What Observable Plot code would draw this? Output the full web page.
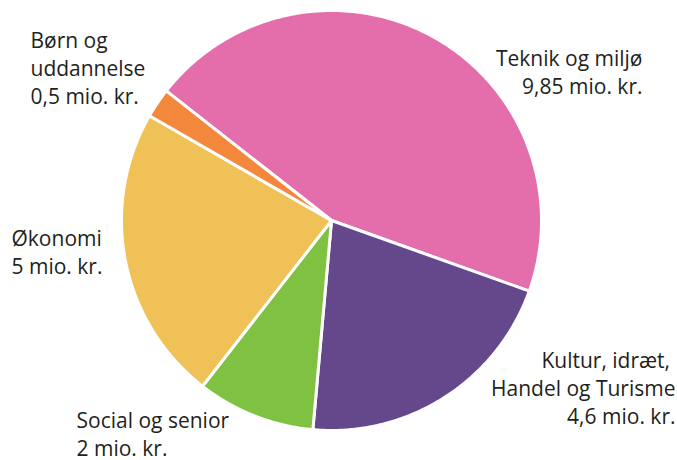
<!DOCTYPE html>
<html>
<head>
<meta charset="utf-8">
<script src="https://cdn.jsdelivr.net/npm/d3@7"></script>
<script src="https://cdn.jsdelivr.net/npm/@observablehq/plot@0.6"></script>
<style>
  html, body { margin: 0; padding: 0; background: #fff; }
  #chart svg { display: block; }
</style>
</head>
<body>
<div id="chart"></div>
<script>
// ---- data ----
const categories = ["Teknik og miljø", "Kultur, idræt, Handel og Turisme", "Social og senior", "Økonomi", "Børn og uddannelse"];
const values = [9.85, 4.6, 2, 5, 0.5];
const valueLabels = ["9,85 mio. kr.", "4,6 mio. kr.", "2 mio. kr.", "5 mio. kr.", "0,5 mio. kr."];
const nameLines = [
  ["Teknik og miljø"],
  ["Kultur, idræt,\u00a0", "Handel og Turisme"],
  ["Social og senior"],
  ["Økonomi"],
  ["Børn og", "uddannelse"]
];

// ---- styling / layout ----
const colors = ["#E46DAB", "#65488B", "#7FC241", "#F0C157", "#F3873B"];
const W = 677, H = 460;
const cx = 331, cy = 220, R = 210;
const startDeg = -51.9;
const labelPos = [
  {x: 642, y: 93, anchor: "end"},
  {x: 675, y: 423, anchor: "end"},
  {x: 76, y: 455, anchor: "start"},
  {x: 11, y: 273, anchor: "start"},
  {x: 30, y: 103, anchor: "start"}
];

const start = startDeg * Math.PI / 180;
const arcs = d3.pie().sort(null).startAngle(start).endAngle(start + 2 * Math.PI)(values);

const polys = [];
arcs.forEach((a, i) => {
  const n = Math.max(2, Math.ceil((a.endAngle - a.startAngle) / (Math.PI / 360)));
  polys.push({k: i, color: colors[i], px: cx, py: cy});
  for (let j = 0; j <= n; j++) {
    const t = a.startAngle + (a.endAngle - a.startAngle) * j / n;
    polys.push({k: i, color: colors[i], px: cx + R * Math.sin(t), py: cy - R * Math.cos(t)});
  }
  polys.push({k: i, color: colors[i], px: cx, py: cy});
});

const labels = categories.map((c, i) => ({
  text: nameLines[i].concat([valueLabels[i]]).join("\n"),
  x: labelPos[i].x, y: labelPos[i].y, anchor: labelPos[i].anchor
}));

const fs = 21;
const chart = Plot.plot({
  width: W, height: H,
  margin: 0,
  x: {domain: [0, W], range: [0, W], axis: null},
  y: {domain: [0, H], range: [0, H], axis: null},
  color: {type: "identity"},
  style: {fontFamily: "'Open Sans', sans-serif", background: "#fff"},
  marks: [
    Plot.line(polys, {x: "px", y: "py", z: "k", fill: "color", stroke: "#fff", strokeWidth: 3, strokeLinejoin: "round", curve: "linear"}),
    Plot.text(labels.filter(d => d.anchor === "start"), {x: "x", y: "y", text: "text", textAnchor: "start", lineAnchor: "bottom", lineHeight: 28 / fs, fontSize: fs, fill: "#231F20"}),
    Plot.text(labels.filter(d => d.anchor === "end"), {x: "x", y: "y", text: "text", textAnchor: "end", lineAnchor: "bottom", lineHeight: 28 / fs, fontSize: fs, fill: "#231F20"})
  ]
});
document.getElementById("chart").appendChild(chart);
</script>
</body>
</html>
